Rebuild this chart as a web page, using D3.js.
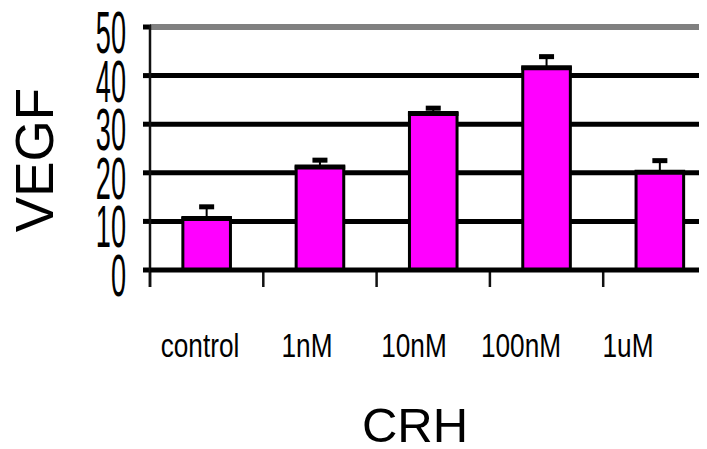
<!DOCTYPE html>
<html>
<head>
<meta charset="utf-8">
<script src="https://cdn.jsdelivr.net/npm/d3@7/dist/d3.min.js"></script>
<style>
  html, body { margin: 0; padding: 0; background: #fff; }
  svg { display: block; }
  text { font-family: "Liberation Sans", Arial, sans-serif; fill: #000; }
</style>
</head>
<body>
<svg id="chart" width="707" height="449"></svg>
<script>
// VEGF response to CRH doses
const categories = ["control", "1nM", "10nM", "100nM", "1uM"];
const vegf = [10.6, 21.2, 32.2, 41.6, 20.1];
const vegfErr = [2.4, 1.4, 1.1, 2.3, 2.4];
const yTicks = [0, 10, 20, 30, 40, 50];

const svg = d3.select("#chart");

const plotLeft = 150, plotRight = 699;
const step = 113.3;

const y = d3.scaleLinear().domain([0, 50]).range([270, 27]);
const x = d3.scaleBand().domain(categories)
  .range([plotLeft, plotLeft + step * categories.length]).padding(0);
// category labels sit on a slightly tighter spacing than the bars
const xLabel = d3.scaleBand().domain(categories).range([146.5, 681.5]).padding(0);

const barW = x.bandwidth() * 0.42;

// horizontal gridlines (top one grey)
svg.append("g").selectAll("line.grid")
  .data(yTicks.filter(d => d > 0))
  .join("line")
  .attr("x1", plotLeft).attr("x2", plotRight)
  .attr("y1", d => y(d)).attr("y2", d => y(d))
  .attr("stroke", d => d === 50 ? "#808080" : "#000")
  .attr("stroke-width", d => d === 50 ? 6 : 5);

// y-axis tick marks
svg.append("g").selectAll("line")
  .data(yTicks)
  .join("line")
  .attr("x1", 143).attr("x2", plotLeft + 1)
  .attr("y1", d => y(d)).attr("y2", d => y(d))
  .attr("stroke", "#000").attr("stroke-width", 5);

// y-axis line
svg.append("line")
  .attr("x1", plotLeft).attr("x2", plotLeft)
  .attr("y1", y(50) - 2).attr("y2", 287)
  .attr("stroke", "#111").attr("stroke-width", 2.5);

// category separators below the baseline
svg.append("g").selectAll("line")
  .data(categories.map((c, i) => x(c) + x.step()).concat([x(categories[0])]))
  .join("line")
  .attr("x1", d => d).attr("x2", d => d)
  .attr("y1", y(0)).attr("y2", 287)
  .attr("stroke", "#111").attr("stroke-width", 2.5);

// bars
const bars = svg.append("g");
bars.selectAll("rect")
  .data(categories)
  .join("rect")
  .attr("x", (c) => x(c) + x.bandwidth() / 2 - barW / 2)
  .attr("width", barW)
  .attr("y", (c, i) => y(vegf[i]))
  .attr("height", (c, i) => y(0) - y(vegf[i]))
  .attr("fill", "#ff00ff")
  .attr("stroke", "#000")
  .attr("stroke-width", 3);

// heavier top edge of each bar
bars.selectAll("line.top")
  .data(categories)
  .join("line")
  .attr("class", "top")
  .attr("x1", c => x(c) + x.bandwidth() / 2 - barW / 2 - 1.5)
  .attr("x2", c => x(c) + x.bandwidth() / 2 + barW / 2 + 1.5)
  .attr("y1", (c, i) => y(vegf[i])).attr("y2", (c, i) => y(vegf[i]))
  .attr("stroke", "#000").attr("stroke-width", 5);

// error bars (upper only)
const err = svg.append("g");
err.selectAll("line")
  .data(categories)
  .join("line")
  .attr("x1", c => x(c) + x.bandwidth() / 2)
  .attr("x2", c => x(c) + x.bandwidth() / 2)
  .attr("y1", (c, i) => y(vegf[i]))
  .attr("y2", (c, i) => y(vegf[i] + vegfErr[i]))
  .attr("stroke", "#000").attr("stroke-width", 2);
err.selectAll("rect")
  .data(categories)
  .join("rect")
  .attr("x", c => x(c) + x.bandwidth() / 2 - 7.5)
  .attr("width", 15)
  .attr("y", (c, i) => y(vegf[i] + vegfErr[i]) - 2.5)
  .attr("height", 5)
  .attr("fill", "#000");

// baseline
svg.append("line")
  .attr("x1", plotLeft).attr("x2", plotRight)
  .attr("y1", y(0)).attr("y2", y(0))
  .attr("stroke", "#000").attr("stroke-width", 5);

// y tick labels (condensed, tall)
svg.append("g").selectAll("text")
  .data(yTicks)
  .join("text")
  .attr("transform", d => `translate(126,${y(d) + 26}) scale(0.46,1)`)
  .attr("text-anchor", "end")
  .attr("font-size", 59)
  .text(d => d);

// category labels (condensed)
svg.append("g").selectAll("text")
  .data(categories)
  .join("text")
  .attr("transform", c => `translate(${xLabel(c) + xLabel.bandwidth() / 2},357) scale(0.77,1)`)
  .attr("text-anchor", "middle")
  .attr("font-size", 34)
  .text(c => c);

// axis titles
svg.append("text")
  .attr("transform", "translate(53,160) rotate(-90)")
  .attr("text-anchor", "middle")
  .attr("font-size", 53)
  .text("VEGF");

svg.append("text")
  .attr("x", 415).attr("y", 442)
  .attr("text-anchor", "middle")
  .attr("font-size", 49)
  .text("CRH");
</script>
</body>
</html>
